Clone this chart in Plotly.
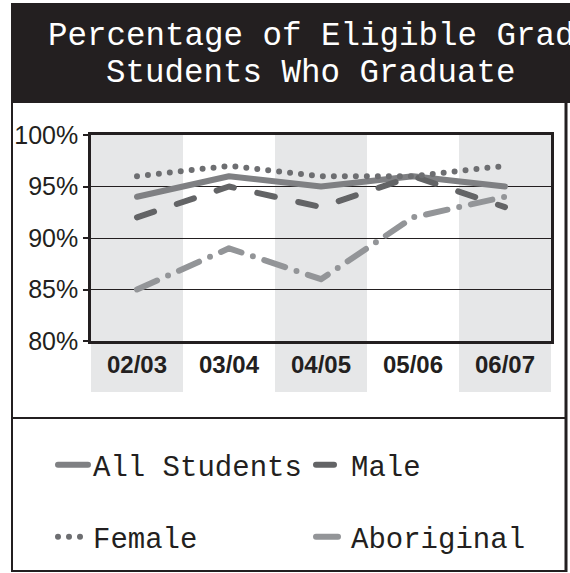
import plotly.graph_objects as go

# ---- data ----
years = ["02/03", "03/04", "04/05", "05/06", "06/07"]
all_students = [94, 96, 95, 96, 95]
male = [92, 95, 93, 96, 93]
female = [96, 97, 96, 96, 97]
aboriginal = [85, 89, 86, 92, 94]
y_ticks = [80, 85, 90, 95, 100]
y_tick_labels = ["80%", "85%", "90%", "95%", "100%"]

title_line1 = "Percentage of Eligible Grade 12"
title_line2 = "Students Who Graduate"

# ---- layout geometry (pixels) ----
W, H = 570, 573
L, R, T, B = 91, 19, 135, 232
PW = W - L - R
PH = H - T - B
INK = "#231f20"


def px(x):
    return (x - L) / PW


def py(y):
    return (H - B - y) / PH


series = [
    ("All Students", all_students, "#7f8083", "solid", "legend"),
    ("Male", male, "#636466", "18px,24px", "legend2"),
    ("Female", female, "#6d6e71", "0px,11px", "legend3"),
    ("Aboriginal", aboriginal, "#939598", "22px,12px,0px,12px", "legend4"),
]

fig = go.Figure()
for name, vals, color, dash, lg in series:
    fig.add_trace(go.Scatter(
        x=years, y=vals, name=name, mode="lines",
        line=dict(color=color, width=6, dash=dash),
        legend=lg, cliponaxis=False,
    ))

shapes = []
# alternating grey bands
for i, _ in enumerate(years):
    if i % 2 == 0:
        shapes.append(dict(type="rect", xref="x", yref="paper",
                           x0=i - 0.5, x1=i + 0.5, y0=py(392), y1=1,
                           fillcolor="#e6e7e8", line=dict(width=0), layer="below"))
# title box
shapes.append(dict(type="rect", xref="paper", yref="paper",
                   x0=px(11), x1=px(575), y0=py(103), y1=py(3),
                   fillcolor=INK, line=dict(width=0), layer="below"))
# frame
shapes.append(dict(type="line", xref="paper", yref="paper",
                   x0=px(12), x1=px(12), y0=py(103), y1=py(572),
                   line=dict(color=INK, width=2)))
shapes.append(dict(type="line", xref="paper", yref="paper",
                   x0=px(566), x1=px(566), y0=py(103), y1=py(572),
                   line=dict(color=INK, width=3)))
shapes.append(dict(type="line", xref="paper", yref="paper",
                   x0=px(12), x1=px(566), y0=py(418), y1=py(418),
                   line=dict(color=INK, width=2)))
shapes.append(dict(type="line", xref="paper", yref="paper",
                   x0=px(12), x1=px(566), y0=py(571), y1=py(571),
                   line=dict(color=INK, width=2)))

annotations = [
    dict(text=title_line1, xref="paper", yref="paper", x=px(46), y=py(36),
         xanchor="left", yanchor="middle", showarrow=False,
         font=dict(family="Liberation Mono", size=32.5, color="white")),
    dict(text=title_line2, xref="paper", yref="paper", x=px(311), y=py(74),
         xanchor="center", yanchor="middle", showarrow=False,
         font=dict(family="Liberation Mono", size=32.5, color="white")),
]

legend_font = dict(family="Liberation Mono", size=29, color=INK)
leg_pos = {"legend": (53, 465), "legend2": (311, 465),
           "legend3": (53, 537), "legend4": (311, 537)}
legends = {}
for k, (lx, ly) in leg_pos.items():
    legends[k] = dict(x=px(lx), y=py(ly), xanchor="left", yanchor="middle",
                      font=legend_font, bgcolor="rgba(0,0,0,0)", borderwidth=0)

fig.update_layout(
    width=W, height=H,
    margin=dict(l=L, r=R, t=T, b=B, autoexpand=False),
    paper_bgcolor="white", plot_bgcolor="rgba(0,0,0,0)",
    shapes=shapes, annotations=annotations,
    showlegend=True,
    **legends,
    xaxis=dict(type="category", range=[-0.5, 4.5], showgrid=False,
               showline=True, linecolor=INK, linewidth=2.5, mirror=True,
               ticks="",
               tickfont=dict(family="Liberation Sans", size=24, color=INK, weight="bold"),
               fixedrange=True),
    yaxis=dict(range=[80, 100], tickvals=y_ticks, ticktext=y_tick_labels,
               showgrid=True, gridcolor=INK, gridwidth=1, zeroline=False,
               showline=True, linecolor=INK, linewidth=2.5, mirror=True,
               ticks="outside", ticklen=5, tickwidth=2, tickcolor=INK,
               tickfont=dict(family="Liberation Sans", size=25, color=INK),
               fixedrange=True),
)

post = ("document.body.style.margin='0';"
        "var s=document.createElement('style');"
        "s.innerHTML='body{margin:0}.js-line{stroke-linecap:round;stroke-linejoin:round;}';"
        "document.head.appendChild(s);")
fig.write_html("out.html", post_script=post, config={"displayModeBar": False})
